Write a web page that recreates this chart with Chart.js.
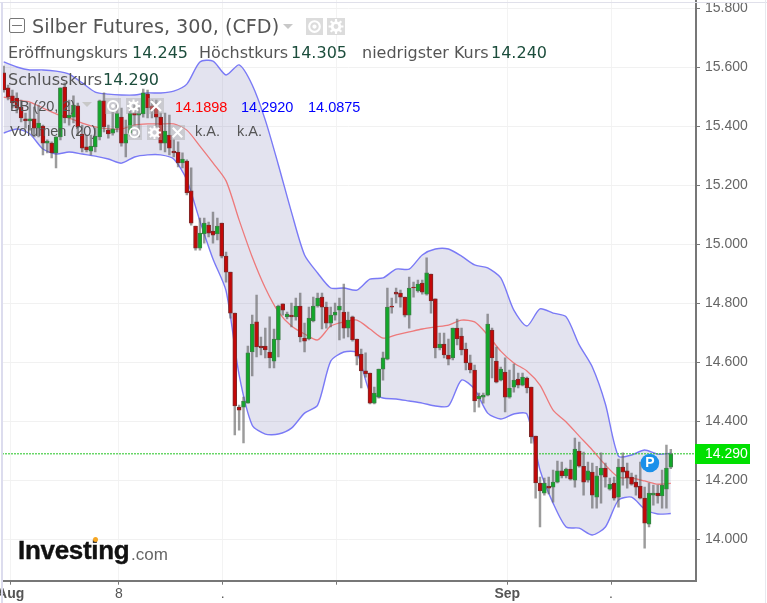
<!DOCTYPE html>
<html><head><meta charset="utf-8">
<script src="https://cdn.jsdelivr.net/npm/chart.js@4/dist/chart.umd.min.js"></script>
<style>
html,body{margin:0;padding:0;background:#fff;width:767px;height:603px;overflow:hidden}
#wrap{position:relative;width:767px;height:603px;overflow:hidden}
canvas{position:absolute;left:0;top:0}
.t{position:absolute;white-space:nowrap;line-height:1;transform:translateY(-50%)}
.d{font-family:"DejaVu Sans",sans-serif;font-size:16px;color:#555}
.v{color:#1c4d3c}
.a{font-family:"Liberation Sans",Arial,sans-serif;font-size:14.5px;color:#555}
.s{position:absolute}
</style></head><body><div id="wrap"><canvas id="c" width="767" height="603"></canvas></div>
<script>
const openPrices=[15.581,15.530,15.503,15.496,15.465,15.425,15.418,15.425,15.394,15.401,15.343,15.343,15.310,15.364,15.533,15.428,15.431,15.469,15.374,15.330,15.316,15.330,15.364,15.486,15.387,15.377,15.394,15.431,15.343,15.377,15.445,15.438,15.442,15.509,15.469,15.465,15.431,15.343,15.370,15.316,15.313,15.276,15.282,15.181,15.062,14.987,15.035,15.065,15.045,15.035,15.072,14.960,14.906,14.767,14.448,14.448,14.462,14.635,14.737,14.655,14.655,14.635,14.604,14.676,14.798,14.754,14.760,14.754,14.791,14.682,14.679,14.740,14.791,14.821,14.787,14.733,14.760,14.777,14.770,14.716,14.754,14.679,14.628,14.571,14.564,14.462,14.482,14.577,14.611,14.791,14.838,14.835,14.821,14.760,14.855,14.842,14.869,14.831,14.899,14.815,14.649,14.662,14.625,14.615,14.716,14.689,14.645,14.598,14.574,14.476,14.482,14.489,14.709,14.604,14.540,14.567,14.482,14.516,14.543,14.523,14.547,14.516,14.350,14.191,14.157,14.181,14.177,14.194,14.232,14.215,14.238,14.201,14.299,14.248,14.201,14.228,14.143,14.218,14.242,14.170,14.191,14.143,14.245,14.232,14.211,14.194,14.181,14.140,14.052,14.150,14.157,14.147,14.170,14.245];
const highPrices=[15.604,15.540,15.523,15.513,15.489,15.445,15.479,15.465,15.472,15.404,15.354,15.347,15.364,15.530,15.547,15.489,15.503,15.479,15.404,15.370,15.370,15.394,15.489,15.513,15.404,15.455,15.472,15.462,15.421,15.465,15.472,15.462,15.526,15.523,15.489,15.489,15.445,15.445,15.438,15.354,15.347,15.310,15.286,15.259,15.062,15.089,15.089,15.075,15.109,15.089,15.072,14.974,14.906,14.767,14.455,14.482,14.655,14.760,14.828,14.686,14.716,14.754,14.713,14.794,14.798,14.770,14.801,14.818,14.835,14.733,14.787,14.821,14.835,14.835,14.804,14.787,14.801,14.818,14.865,14.770,14.757,14.679,14.645,14.632,14.564,14.516,14.577,14.635,14.852,14.818,14.852,14.845,14.821,14.889,14.872,14.879,14.879,14.954,14.899,14.815,14.699,14.699,14.679,14.716,14.747,14.716,14.665,14.625,14.591,14.496,14.496,14.764,14.716,14.652,14.584,14.615,14.574,14.594,14.564,14.564,14.550,14.516,14.350,14.211,14.208,14.211,14.235,14.265,14.262,14.242,14.269,14.343,14.330,14.296,14.262,14.259,14.248,14.293,14.259,14.208,14.211,14.272,14.293,14.259,14.225,14.218,14.262,14.177,14.191,14.184,14.184,14.235,14.320,14.305];
const lowPrices=[15.516,15.489,15.462,15.445,15.415,15.394,15.387,15.364,15.364,15.303,15.310,15.293,15.259,15.354,15.411,15.404,15.411,15.370,15.313,15.313,15.303,15.313,15.354,15.381,15.360,15.370,15.381,15.333,15.296,15.367,15.404,15.364,15.431,15.428,15.428,15.398,15.320,15.313,15.303,15.296,15.262,15.259,15.167,15.065,14.980,14.980,15.004,15.025,15.004,15.015,14.954,14.872,14.750,14.354,14.370,14.327,14.462,14.554,14.618,14.625,14.615,14.581,14.581,14.618,14.760,14.747,14.720,14.743,14.669,14.635,14.676,14.737,14.787,14.713,14.716,14.720,14.743,14.676,14.682,14.686,14.672,14.591,14.513,14.550,14.459,14.459,14.479,14.540,14.608,14.767,14.801,14.787,14.754,14.716,14.821,14.838,14.831,14.828,14.767,14.615,14.642,14.615,14.591,14.608,14.659,14.625,14.574,14.564,14.432,14.448,14.462,14.486,14.547,14.530,14.537,14.432,14.479,14.499,14.513,14.520,14.496,14.326,14.140,14.042,14.150,14.154,14.126,14.191,14.208,14.208,14.201,14.177,14.245,14.150,14.194,14.106,14.106,14.123,14.177,14.167,14.133,14.109,14.184,14.174,14.184,14.150,14.137,13.970,14.042,14.116,14.123,14.106,14.106,14.240];
const closePrices=[15.523,15.499,15.479,15.462,15.428,15.418,15.425,15.394,15.411,15.343,15.350,15.310,15.364,15.530,15.428,15.438,15.472,15.398,15.326,15.320,15.333,15.367,15.486,15.398,15.374,15.391,15.445,15.343,15.374,15.445,15.438,15.445,15.513,15.462,15.455,15.431,15.343,15.384,15.326,15.310,15.276,15.289,15.174,15.072,14.987,15.038,15.072,15.038,15.031,15.062,14.960,14.906,14.767,14.452,14.438,14.469,14.632,14.730,14.652,14.649,14.642,14.615,14.679,14.791,14.777,14.764,14.754,14.791,14.686,14.672,14.750,14.791,14.818,14.787,14.733,14.760,14.770,14.791,14.716,14.743,14.676,14.621,14.571,14.561,14.462,14.496,14.577,14.615,14.787,14.787,14.831,14.821,14.760,14.852,14.852,14.865,14.838,14.903,14.808,14.649,14.662,14.625,14.611,14.716,14.679,14.642,14.598,14.574,14.469,14.486,14.489,14.730,14.615,14.533,14.577,14.482,14.513,14.540,14.523,14.550,14.513,14.347,14.191,14.164,14.191,14.174,14.194,14.232,14.215,14.238,14.204,14.306,14.248,14.194,14.232,14.150,14.215,14.242,14.211,14.187,14.140,14.245,14.228,14.208,14.187,14.177,14.140,14.055,14.157,14.157,14.147,14.184,14.242,14.290];

const bandIndex=[0,3,6,9,12,15,18,21,24,27,30,33,36,39,42,45,48,51,54,57,60,63,66,69,72,75,78,81,84,87,90,93,96,99,102,105,108,111,114,117,120,123,126,129,132,135,138,141,144,147,150,153];
const bandUpper=[15.618,15.601,15.591,15.591,15.587,15.577,15.547,15.516,15.509,15.506,15.506,15.513,15.513,15.519,15.543,15.618,15.621,15.574,15.608,15.540,15.421,15.269,15.109,14.964,14.903,14.852,14.852,14.845,14.882,14.886,14.916,14.916,14.964,14.984,14.984,14.960,14.930,14.920,14.886,14.777,14.723,14.781,14.767,14.754,14.659,14.584,14.459,14.282,14.286,14.303,14.289,14.292];
const bandLower=[15.377,15.391,15.374,15.323,15.306,15.313,15.306,15.299,15.289,15.275,15.296,15.303,15.303,15.289,15.218,15.079,14.950,14.842,14.557,14.387,14.357,14.357,14.377,14.428,14.455,14.604,14.635,14.632,14.499,14.479,14.476,14.469,14.462,14.452,14.452,14.540,14.509,14.428,14.408,14.425,14.425,14.235,14.123,14.042,14.038,14.015,14.042,14.133,14.143,14.103,14.086,14.0875];
const bandMiddle=[15.499,15.489,15.482,15.462,15.442,15.428,15.411,15.398,15.391,15.391,15.404,15.408,15.408,15.408,15.387,15.333,15.276,15.215,15.082,14.957,14.852,14.771,14.723,14.696,14.676,14.723,14.737,14.743,14.713,14.682,14.693,14.703,14.713,14.720,14.726,14.743,14.737,14.693,14.638,14.598,14.571,14.523,14.438,14.398,14.350,14.303,14.252,14.211,14.208,14.198,14.187,14.1898];

const xTickIndex=[1.6,26.4,50.2,76.4,115.5,139.3];
const xTickLabels=['Aug','8','.','','Sep','.'];
const xBoldLabels=['Aug','Sep'];
const lastPrice=14.290;
const markerIndex=148.2, markerPrice=14.259;

const xMin=-0.39,xMax=158.78,yMin=13.860,yMax=15.828;
const pair=(a,b)=>a.map((v,i)=>({x:i,y:[v,b[i]]}));
const up=openPrices.map((o,i)=>closePrices[i]>=o);
const band=a=>a.map((v,i)=>({x:bandIndex[i],y:v}));
const blue='#7a7af6';

const overlayPlugin={id:'overlay',afterDraw(ch){
  const c=ch.ctx,ys=ch.scales.y,xs=ch.scales.x,yy=ys.getPixelForValue(lastPrice);
  c.save();
  c.fillStyle='#00e000';c.fillRect(695,Math.round(yy)-10,55,20);
  c.fillStyle='#fff';c.font='14px "Liberation Sans",Arial,sans-serif';c.textBaseline='middle';c.textAlign='left';
  c.fillText(lastPrice.toFixed(3),705,yy+.5);
  c.font='bold 14px "Liberation Sans",Arial,sans-serif';c.textAlign='center';
  c.fillText('P',xs.getPixelForValue(markerIndex),ys.getPixelForValue(markerPrice)+.5);
  c.restore();
}};

new Chart(document.getElementById('c'),{
  type:'bar',
  data:{datasets:[
    {type:'line',data:band(bandUpper),borderColor:blue,borderWidth:1.4,pointRadius:0,tension:0.25,fill:{target:'+1'},backgroundColor:'rgba(104,104,170,0.19)',order:6},
    {type:'line',data:band(bandLower),borderColor:blue,borderWidth:1.4,pointRadius:0,tension:0.25,fill:false,order:5},
    {type:'line',data:band(bandMiddle),borderColor:'rgba(238,110,110,0.9)',borderWidth:1.3,pointRadius:0,tension:0.25,fill:false,order:4},
    {type:'line',data:[{x:xMin,y:lastPrice},{x:xMax,y:lastPrice}],borderColor:'#22c322',borderWidth:1,borderDash:[2,1],pointRadius:0,fill:false,order:3},
    {data:pair(lowPrices,highPrices),backgroundColor:'rgba(95,95,95,0.62)',borderWidth:0,barThickness:1.8,grouped:false,order:2},
    {data:pair(openPrices,closePrices),backgroundColor:up.map(u=>u?'#12a82a':'#c40808'),borderColor:up.map(u=>u?'#3f7f48':'#7c2a2a'),borderWidth:1,borderSkipped:false,barThickness:4,grouped:false,order:1},
    {type:'line',data:[{x:markerIndex,y:markerPrice}],showLine:false,pointRadius:9.3,pointBackgroundColor:'#1b90ea',pointBorderWidth:0,order:0}
  ]},
  options:{
    responsive:false,animation:false,
    layout:{autoPadding:false,padding:{left:2,right:0,top:0,bottom:0}},
    plugins:{legend:{display:false},tooltip:{enabled:false},title:{display:false}},
    scales:{
      x:{type:'linear',min:xMin,max:xMax,offset:false,
        afterBuildTicks(s){s.ticks=xTickIndex.map(v=>({value:v}));},
        afterFit(s){s.height=22.3;s.paddingLeft=0;s.paddingRight=0;},
        grid:{offset:false,color:'#f3f3f3',tickColor:'#777',tickLength:4,drawTicks:true},
        border:{color:'#777',width:2},
        ticks:{autoSkip:false,maxRotation:0,minRotation:0,padding:1,color:'#555',
          callback:(v)=>{const i=xTickIndex.indexOf(v);return i<0?'':xTickLabels[i];},
          font:c=>{const i=c.tick?xTickIndex.indexOf(c.tick.value):-1;return {family:'"Liberation Sans",Arial,sans-serif',size:14,weight:xBoldLabels.includes(xTickLabels[i])?'bold':'normal'};}}
      },
      y:{type:'linear',position:'right',min:yMin,max:yMax,
        afterFit(s){s.width=71;s.paddingTop=0;s.paddingBottom=0;},
        grid:{color:'#f1f1f1',tickColor:'#777',tickLength:4},
        border:{color:'#777',width:2},
        ticks:{stepSize:0.2,includeBounds:false,padding:5,color:'#666',font:{family:'"Liberation Sans",Arial,sans-serif',size:14},callback:v=>Number(v).toFixed(3)}
      }
    }
  },
  plugins:[overlayPlugin]
});

const wrap=document.getElementById('wrap');
function text(str,left,cy,cls,style){const e=document.createElement('span');e.className='t '+cls;e.textContent=str;e.style.left=left+'px';e.style.top=cy+'px';if(style)e.style.cssText+=';'+style;wrap.appendChild(e);return e;}
function shape(l,t,w,h,style,html){const e=document.createElement('div');e.className='s';e.style.cssText=`left:${l}px;top:${t}px;width:${w}px;height:${h}px;`+style;if(html)e.innerHTML=html;wrap.appendChild(e);return e;}
function tri(l,t,w,h,col){shape(l,t,0,0,`width:0;height:0;border-left:${w/2}px solid transparent;border-right:${w/2}px solid transparent;border-top:${h}px solid ${col}`);}
function svg(body,col){return `<svg width="100%" height="100%" viewBox="0 0 16 16" fill="none" stroke="${col}" stroke-width="2">${body}</svg>`;}
const eye='<circle cx="8" cy="8" r="5"/><circle cx="8" cy="8" r="1" fill="#fff"/>';
const gear='<circle cx="8" cy="8" r="3.6" stroke-width="2.6"/><path d="M8 1v3M8 12v3M1 8h3M12 8h3M3 3l2 2M11 11l2 2M13 3l-2 2M3 13l2-2"/>';
const cross='<path d="M3 3l10 10M13 3L3 13" stroke-width="2.2"/>';

shape(0,2,767,1,'background:#e0e0ea');
shape(1,2,1.5,601,'background:#dcdcee');
shape(765,0,1,603,'background:#e8e8ee');

shape(9,18,16,15,'box-sizing:border-box;border:1.5px solid #777;border-radius:2px','<div style="position:absolute;left:2px;right:2px;top:5.5px;height:1.5px;background:#777"></div>');
text('Silber Futures, 300, (CFD)',32,27,'d','font-size:19.2px');
tri(283,24,10,5,'#c8c8c8');
shape(306,18,17,17,'background:#dcdcdc',svg(eye,'#fff'));
shape(327,18,18,17,'background:#dcdcdc',svg(gear,'#fff'));

text('Eröffnungskurs',8,53,'d');text('14.245',132,53,'d v');
text('Höchstkurs',199,53,'d');text('14.305',291,53,'d v');
text('niedrigster Kurs',362,53,'d');text('14.240',491,53,'d v');
text('Schlusskurs',8,80,'d');text('14.290',103,80,'d v');

text('BB (20, 2)',10,106,'a');
tri(82,102,10,5,'#c8c8c8');
shape(105,98,16,16,'background:rgba(170,170,170,.45)',svg(eye,'#fff'));
shape(126,98,15,16,'background:rgba(170,170,170,.45)',svg(gear,'#fff'));
shape(148,98,16,16,'background:rgba(170,170,170,.45)',svg(cross,'#fff'));
text('14.1898',175,107,'a','color:#ff0000');
text('14.2920',241,107,'a','color:#0000ff');
text('14.0875',308,107,'a','color:#0000ff');

text('Volumen (20)',10,131,'a');
shape(127,125,15,15,'background:rgba(170,170,170,.45)',svg(eye,'#fff'));
shape(147,125,15,15,'background:rgba(170,170,170,.45)',svg(gear,'#fff'));
shape(170,125,15,15,'background:rgba(170,170,170,.45)',svg(cross,'#fff'));
text('k.A.',195,131,'a');text('k.A.',237,131,'a');

text('Investing',18,550,'a','font-weight:bold;font-size:26px;color:#111;letter-spacing:-.3px;-webkit-text-stroke:.4px #111');
text('.com',131,554,'a','font-size:17px;color:#666');
shape(93,537,5,5,'background:#f5a623;border-radius:50%');
</script></body></html>
